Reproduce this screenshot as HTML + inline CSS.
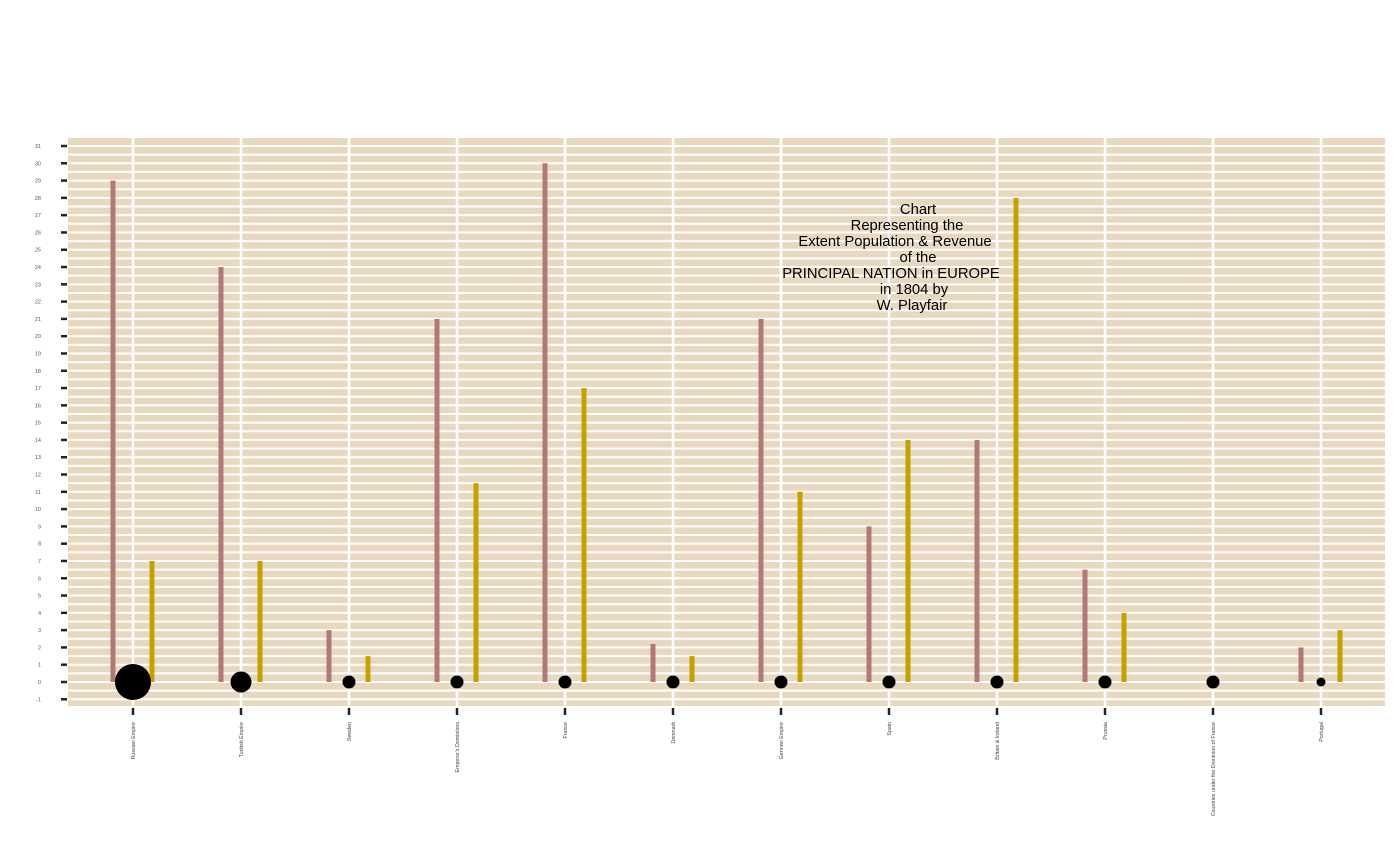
<!DOCTYPE html>
<html><head><meta charset="utf-8"><style>
html,body{margin:0;padding:0;background:#fff;}
svg{display:block;font-family:"Liberation Sans",Arial,sans-serif;}
</style></head><body>
<svg id="chart" width="1400" height="865" viewBox="0 0 1400 865" xmlns="http://www.w3.org/2000/svg"></svg>
<script>
const categories=["Russian Empire","Turkish Empire","Sweden","Emperor's Dominions","France","Denmark","German Empire","Spain","Britain & Ireland","Prussia","Countries under the Dominion of France","Portugal"];
const population=[29,24,3,21,30,2.2,21,9,14,6.5,0,2];
const revenue=[7,7,1.5,11.5,17,1.5,11,14,28,4,0,3];
const extentRadius=[18,10.5,6.5,6.5,6.5,6.5,6.5,6.5,6.5,6.5,6.5,4.5];
const yTicks=[-1,0,1,2,3,4,5,6,7,8,9,10,11,12,13,14,15,16,17,18,19,20,21,22,23,24,25,26,27,28,29,30,31];
const titleLines=["Chart","Representing the","Extent Population & Revenue","of the","PRINCIPAL NATION in EUROPE","in 1804 by","W. Playfair"];
const titleCenters=[918,907,895,918,891,914,912];

const NS="http://www.w3.org/2000/svg";
const svg=document.getElementById('chart');
const px0=68,px1=1385,py0=138,py1=706;
const y=v=>682-(v)*(536/31);
const x=i=>133+i*108;
function el(t,a,p){const e=document.createElementNS(NS,t);for(const k in a)e.setAttribute(k,a[k]);(p||svg).appendChild(e);return e;}

const bg=el('rect',{x:px0,y:py0,width:px1-px0,height:py1-py0,fill:'#e8d8c0'});


for(let v=-1.5;v<=31.5;v+=0.5){
  const yy=y(v); if(yy<py0||yy>py1)continue;
  const g=el('line',{x1:px0,x2:px1,y1:yy,y2:yy,stroke:'#fff','stroke-width':2});
  
  
}
categories.forEach((c,i)=>{
  const g=el('line',{x1:x(i),x2:x(i),y1:py0,y2:py1,stroke:'#fff','stroke-width':2.5});
  
  
});
yTicks.forEach(t=>{
  const tk=el('line',{x1:61,x2:67,y1:y(t),y2:y(t),stroke:'#222','stroke-width':2.5});
  
  
  const tl=el('text',{x:41,y:y(t)+2,'font-size':5.5,fill:'#555','text-anchor':'end'});
  tl.textContent=t;
  
  
});
categories.forEach((c,i)=>{
  const cx=x(i);
  const b1=el('rect',{x:cx-22.5,y:y(population[i]),width:5,height:y(0)-y(population[i]),fill:'#b07878'});
  
  
  const b2=el('rect',{x:cx+16.5,y:y(revenue[i]),width:5,height:y(0)-y(revenue[i]),fill:'#c4a000'});
  
  
  const ci=el('circle',{cx:cx,cy:y(0),r:extentRadius[i],fill:'#000'});
  
  
  const tk=el('line',{x1:cx,x2:cx,y1:708,y2:715,stroke:'#222','stroke-width':2.5});
  
  
  const tl=el('text',{x:0,y:0,'font-size':5.3,fill:'#444','text-anchor':'end',transform:`translate(${cx+2},722) rotate(-90)`});
  tl.textContent=c;
  
  
});
titleLines.forEach((s,i)=>{
  const t=el('text',{x:titleCenters[i],y:214+i*16,'font-size':14.8,fill:'#000','text-anchor':'middle'});
  t.textContent=s;
  
  
});
</script>
</body></html>
